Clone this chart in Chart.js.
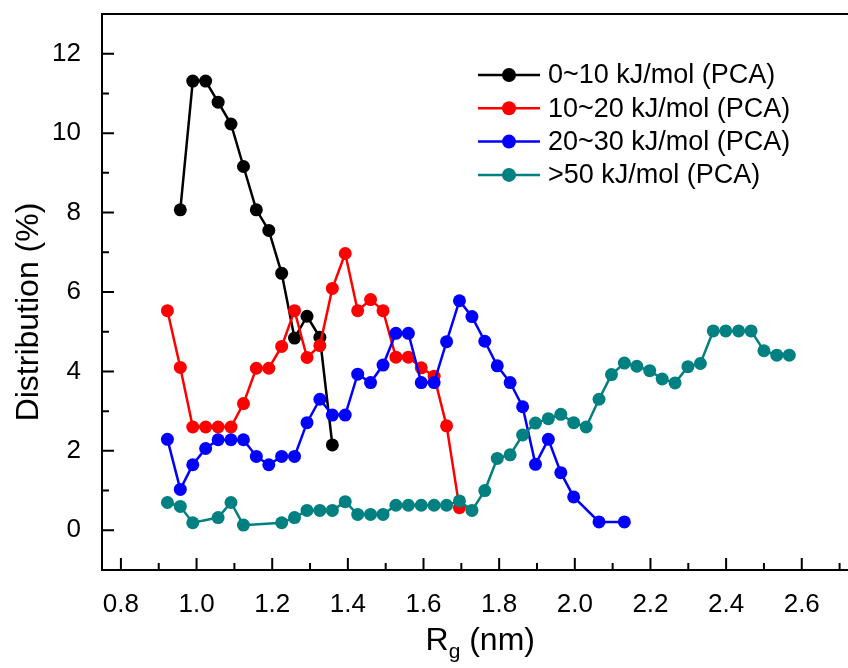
<!DOCTYPE html>
<html>
<head>
<meta charset="utf-8">
<script src="https://cdn.jsdelivr.net/npm/chart.js@4.4.1/dist/chart.umd.min.js"></script>
<style>
  html, body { margin: 0; padding: 0; background: #fff; overflow: hidden; }
  canvas { display: block; }
</style>
</head>
<body>
<canvas id="rgChart" width="870" height="668"></canvas>
<script>
// Rg bins (nm)
const rg = [0.923, 0.957, 0.990, 1.024, 1.057, 1.091, 1.124, 1.158, 1.191, 1.225,
            1.259, 1.292, 1.326, 1.359, 1.393, 1.426, 1.460, 1.493, 1.527, 1.560,
            1.594, 1.628, 1.661, 1.695, 1.728, 1.762, 1.795, 1.829, 1.862, 1.896,
            1.930, 1.963, 1.997, 2.030, 2.064, 2.097, 2.131, 2.164, 2.198, 2.231,
            2.265, 2.299, 2.332, 2.366, 2.399, 2.433, 2.466, 2.500, 2.534, 2.567];

// distribution (%) per bin, null = no point
const pca0to10 = [null, 8.07, 11.31, 11.31, 10.78, 10.23, 9.16, 8.07, 7.55, 6.47,
                  4.84, 5.39, 4.86, 2.15];
const pca10to20 = [5.53, 4.10, 2.60, 2.60, 2.60, 2.60, 3.19, 4.08, 4.08, 4.63,
                   5.53, 4.35, 4.65, 6.09, 6.97, 5.53, 5.81, 5.53, 4.36, 4.36,
                   4.09, 3.88, 2.63, 0.57];
const pca20to30 = [2.29, 1.03, 1.65, 2.06, 2.28, 2.28, 2.28, 1.86, 1.65, 1.86,
                   1.86, 2.71, 3.30, 2.90, 2.90, 3.93, 3.72, 4.16, 4.96, 4.96,
                   3.72, 3.72, 4.75, 5.78, 5.38, 4.76, 4.14, 3.72, 3.11, 1.66,
                   2.29, 1.45, 0.84, null, 0.21, null, 0.21];
const pcaOver50 = [0.70, 0.60, 0.19, null, 0.32, 0.70, 0.13, null, null, 0.19,
                   0.32, 0.50, 0.50, 0.50, 0.72, 0.40, 0.40, 0.40, 0.63, 0.63,
                   0.63, 0.63, 0.63, 0.74, 0.50, 1.00, 1.81, 1.90, 2.40, 2.70,
                   2.81, 2.92, 2.71, 2.60, 3.30, 3.92, 4.21, 4.13, 4.02, 3.81,
                   3.71, 4.12, 4.20, 5.02, 5.02, 5.02, 5.02, 4.52, 4.41, 4.41];

const seriesNames = ['0~10 kJ/mol (PCA)', '10~20 kJ/mol (PCA)', '20~30 kJ/mol (PCA)', '>50 kJ/mol (PCA)'];
const seriesColors = ['#000000', '#ff0000', '#0000ff', '#008080'];

// axis ticks
const xTicks = [0.8, 1.0, 1.2, 1.4, 1.6, 1.8, 2.0, 2.2, 2.4, 2.6];
const xMinor = [0.9, 1.1, 1.3, 1.5, 1.7, 1.9, 2.1, 2.3, 2.5, 2.7];
const yTicks = [0, 2, 4, 6, 8, 10, 12];
const yMinor = [1, 3, 5, 7, 9, 11];

const FONT = '"Liberation Sans", Arial, sans-serif';

function toPoints(vals) {
  const pts = [];
  rg.forEach((x, i) => {
    if (vals[i] !== undefined && vals[i] !== null) pts.push({ x: x, y: vals[i] });
  });
  return pts;
}

// box, inward ticks, axis titles and legend
const framePlugin = {
  id: 'frame',
  beforeDatasetsDraw(chart) {
    const { ctx, chartArea: a, scales: { x, y } } = chart;
    ctx.save();
    ctx.strokeStyle = '#000';
    ctx.lineWidth = 2;
    ctx.strokeRect(a.left, a.top, a.right - a.left, a.bottom - a.top);
    ctx.beginPath();
    xTicks.forEach(v => { const px = x.getPixelForValue(v); ctx.moveTo(px, a.bottom); ctx.lineTo(px, a.bottom - 12); });
    xMinor.forEach(v => { const px = x.getPixelForValue(v); ctx.moveTo(px, a.bottom); ctx.lineTo(px, a.bottom - 7); });
    yTicks.forEach(v => { const py = y.getPixelForValue(v); ctx.moveTo(a.left, py); ctx.lineTo(a.left + 12, py); });
    yMinor.forEach(v => { const py = y.getPixelForValue(v); ctx.moveTo(a.left, py); ctx.lineTo(a.left + 7, py); });
    ctx.stroke();
    ctx.restore();
  },
  afterDraw(chart) {
    const { ctx, chartArea: a } = chart;
    ctx.save();
    ctx.fillStyle = '#000';

    // y title
    ctx.font = '32px ' + FONT;
    ctx.textAlign = 'center';
    ctx.textBaseline = 'middle';
    ctx.translate(29, 312);
    ctx.rotate(-Math.PI / 2);
    ctx.fillText('Distribution (%)', 0, 0);
    ctx.setTransform(1, 0, 0, 1, 0, 0);

    // x title with subscript g
    ctx.textAlign = 'left';
    ctx.textBaseline = 'alphabetic';
    const big = '32px ' + FONT, small = '21px ' + FONT;
    ctx.font = big; const wR = ctx.measureText('R').width;
    const wN = ctx.measureText(' (nm)').width;
    ctx.font = small; const wG = ctx.measureText('g').width;
    const cx = (a.left + a.right) / 2;
    let sx = cx - (wR + wG + wN) / 2;
    const base = 650;
    ctx.font = big; ctx.fillText('R', sx, base);
    ctx.font = small; ctx.fillText('g', sx + wR, base + 8);
    ctx.font = big; ctx.fillText(' (nm)', sx + wR + wG, base);

    // legend
    ctx.font = '27px ' + FONT;
    ctx.textBaseline = 'middle';
    chart.data.datasets.forEach((ds, i) => {
      const ly = 75 + i * 33.3;
      ctx.strokeStyle = ds.borderColor;
      ctx.lineWidth = 2.5;
      ctx.beginPath();
      ctx.moveTo(478, ly);
      ctx.lineTo(540, ly);
      ctx.stroke();
      ctx.fillStyle = ds.borderColor;
      ctx.beginPath();
      ctx.arc(509, ly, 7, 0, Math.PI * 2);
      ctx.fill();
      ctx.fillStyle = '#000';
      ctx.fillText(ds.label, 548, ly + 1);
    });
    ctx.restore();
  }
};

const allSeries = [pca0to10, pca10to20, pca20to30, pcaOver50];

const datasets = allSeries.map((vals, i) => ({
  label: seriesNames[i],
  data: toPoints(vals),
  borderColor: seriesColors[i],
  backgroundColor: seriesColors[i],
  pointBackgroundColor: seriesColors[i],
  borderWidth: 2.5,
  pointRadius: 6.5,
  pointBorderWidth: 0,
  tension: 0,
  order: 4 - i
}));

new Chart(document.getElementById('rgChart'), {
  type: 'line',
  data: { datasets: datasets },
  options: {
    responsive: false,
    animation: false,
    devicePixelRatio: 1,
    layout: { padding: { left: 0, top: 14, right: 11.5, bottom: 0 } },
    plugins: { legend: { display: false }, tooltip: { enabled: false } },
    scales: {
      x: {
        type: 'linear',
        min: 0.75,
        max: 2.75,
        grid: { display: false },
        border: { display: false },
        afterBuildTicks: s => { s.ticks = xTicks.map(v => ({ value: v })); },
        afterFit: s => { s.height = 98; s.paddingLeft = 0; s.paddingRight = 0; },
        ticks: {
          autoSkip: false, maxRotation: 0, padding: 11, color: '#000',
          font: { family: FONT, size: 26 },
          callback: v => v.toFixed(1)
        }
      },
      y: {
        min: -1,
        max: 13,
        grid: { display: false },
        border: { display: false },
        afterBuildTicks: s => { s.ticks = yTicks.map(v => ({ value: v })); },
        afterFit: s => { s.width = 102; s.paddingTop = 0; s.paddingBottom = 0; },
        ticks: {
          padding: 13, color: '#000',
          font: { family: FONT, size: 26 },
          callback: v => String(v)
        }
      }
    }
  },
  plugins: [framePlugin]
});
</script>
</body>
</html>
